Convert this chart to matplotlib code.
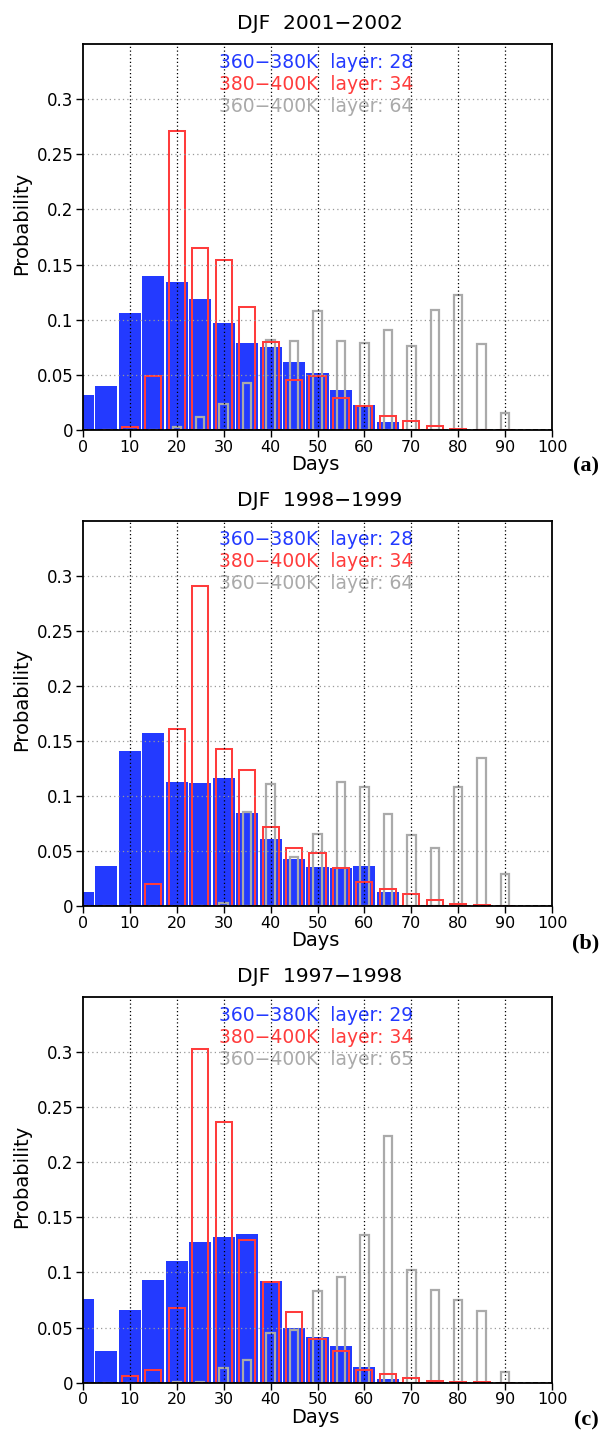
import numpy as np
import matplotlib
matplotlib.use("Agg")
import matplotlib.pyplot as plt

# ---------------- data ----------------
days = [0, 5, 10, 15, 20, 25, 30, 35, 40, 45, 50, 55, 60, 65, 70, 75, 80, 85, 90]

titles = ["DJF  2001\u22122002", "DJF  1998\u22121999", "DJF  1997\u22121998"]
panel_tags = ["(a)", "(b)", "(c)"]
layers_blue = [28, 28, 29]
layers_red = [34, 34, 34]
layers_gray = [64, 64, 65]

blue_a = [0.032, 0.040, 0.106, 0.140, 0.134, 0.119, 0.097, 0.079, 0.0756, 0.062,
          0.0517, 0.036, 0.0227, 0.0073, 0, 0, 0, 0, 0]
red_a = [0, 0, 0.003, 0.049, 0.271, 0.165, 0.154, 0.1116, 0.080, 0.045,
         0.049, 0.029, 0.0218, 0.0127, 0.0085, 0.0036, 0.001, 0, 0]
gray_a = [0, 0, 0, 0, 0.0024, 0.012, 0.0236, 0.043, 0.0817, 0.0805,
          0.108, 0.081, 0.079, 0.091, 0.076, 0.1086, 0.1228, 0.0783, 0.0157]

blue_b = [0.0127, 0.0363, 0.1408, 0.157, 0.1126, 0.1117, 0.1163, 0.0848, 0.0609, 0.0427,
          0.0354, 0.0345, 0.0363, 0.0127, 0, 0, 0, 0, 0]
red_b = [0, 0, 0, 0.0197, 0.1608, 0.2906, 0.1423, 0.1232, 0.072, 0.0527,
         0.0478, 0.0348, 0.0221, 0.0154, 0.0112, 0.0054, 0.0015, 0.0006, 0]
gray_b = [0, 0, 0, 0, 0, 0, 0.003, 0.085, 0.1105, 0.0448,
          0.0657, 0.1126, 0.1078, 0.0833, 0.0648, 0.0527, 0.1081, 0.1341, 0.0288]

blue_c = [0.0758, 0.0287, 0.0659, 0.093, 0.110, 0.1275, 0.1323, 0.1347, 0.0921, 0.0495,
          0.0411, 0.0329, 0.0142, 0.003, 0, 0, 0, 0, 0]
red_c = [0, 0, 0.0057, 0.0115, 0.0674, 0.303, 0.236, 0.1293, 0.0909, 0.0643,
         0.0399, 0.0284, 0.0112, 0.0079, 0.0042, 0.0018, 0.0009, 0.0003, 0]
gray_c = [0, 0, 0, 0, 0.0006, 0.001, 0.013, 0.0208, 0.0447, 0.0477,
          0.0834, 0.096, 0.134, 0.2239, 0.1024, 0.0843, 0.0752, 0.065, 0.0097]

blue_series = [blue_a, blue_b, blue_c]
red_series = [red_a, red_b, red_c]
gray_series = [gray_a, gray_b, gray_c]

xticks = [0, 10, 20, 30, 40, 50, 60, 70, 80, 90, 100]
yticks = [0, 0.05, 0.1, 0.15, 0.2, 0.25, 0.3]
ytick_labels = ["0", "0.05", "0.1", "0.15", "0.2", "0.25", "0.3"]

# ---------------- style ----------------
BLUE = "#233AFF"
RED = "#FF3C3C"
GRAY = "#AAAAAA"

W, H = 603, 1436
fig = plt.figure(figsize=(W / 100, H / 100), dpi=100)

# axes boxes in pixels: (left, top, right, bottom)
boxes = [(83, 44, 552, 430), (83, 520.7, 552, 906), (83, 996.7, 552, 1382.7)]
tag_y = [466, 943, 1420]

for i in range(3):
    l, t, r, b = boxes[i]
    ax = fig.add_axes([l / W, 1 - b / H, (r - l) / W, (b - t) / H])
    x = np.array(days, dtype=float)

    ax.bar(x, blue_series[i], width=4.7, color=BLUE, edgecolor="none", zorder=1)
    ax.bar(x, gray_series[i], width=1.8, facecolor="none", edgecolor=GRAY,
           linewidth=1.6, zorder=2)
    ax.bar(x, red_series[i], width=3.45, facecolor="none", edgecolor=RED,
           linewidth=1.45, zorder=3)

    ax.set_xlim(0, 100)
    ax.set_ylim(0, 0.35)

    # grid lines on top
    for xv in xticks[1:-1]:
        ax.axvline(xv, color="black", linestyle=(0, (1, 2)), linewidth=0.9, zorder=5)
    for yv in yticks[1:]:
        ax.axhline(yv, color="#999999", linestyle=(0, (1, 2.5)), linewidth=0.9, zorder=5)
    ax.axhline(0, color="black", linestyle=(0, (3, 1.5)), linewidth=1.2, zorder=6)

    ax.set_xticks(xticks)
    ax.set_xticklabels([str(v) for v in xticks], fontsize=11.5)
    ax.set_yticks(yticks)
    ax.set_yticklabels(ytick_labels, fontsize=12)
    ax.tick_params(direction="out", length=5, width=1, pad=2)
    for sp in ax.spines.values():
        sp.set_linewidth(1.3)
        sp.set_zorder(7)

    ax.text(-0.130, 0.535, "Probability", transform=ax.transAxes, rotation=90,
            ha="center", va="center", fontsize=14)
    ax.text(0.495, -0.090, "Days", transform=ax.transAxes,
            ha="center", va="center", fontsize=14)
    ax.text(0.505, 1.052, titles[i], transform=ax.transAxes,
            ha="center", va="center", fontsize=14.5)

    ax.text(0.29, 0.951, "360\u2212380K  layer: %d" % layers_blue[i], transform=ax.transAxes,
            ha="left", va="center", fontsize=13.5, color=BLUE, zorder=4)
    ax.text(0.29, 0.894, "380\u2212400K  layer: %d" % layers_red[i], transform=ax.transAxes,
            ha="left", va="center", fontsize=13.5, color=RED, zorder=4)
    ax.text(0.29, 0.837, "360\u2212400K  layer: %d" % layers_gray[i], transform=ax.transAxes,
            ha="left", va="center", fontsize=13.5, color=GRAY, zorder=4)

    fig.text(586 / W, 1 - tag_y[i] / H, panel_tags[i], ha="center", va="center",
             fontsize=16, fontweight="bold", family="Liberation Serif")

fig.savefig("out.png", dpi=100)
